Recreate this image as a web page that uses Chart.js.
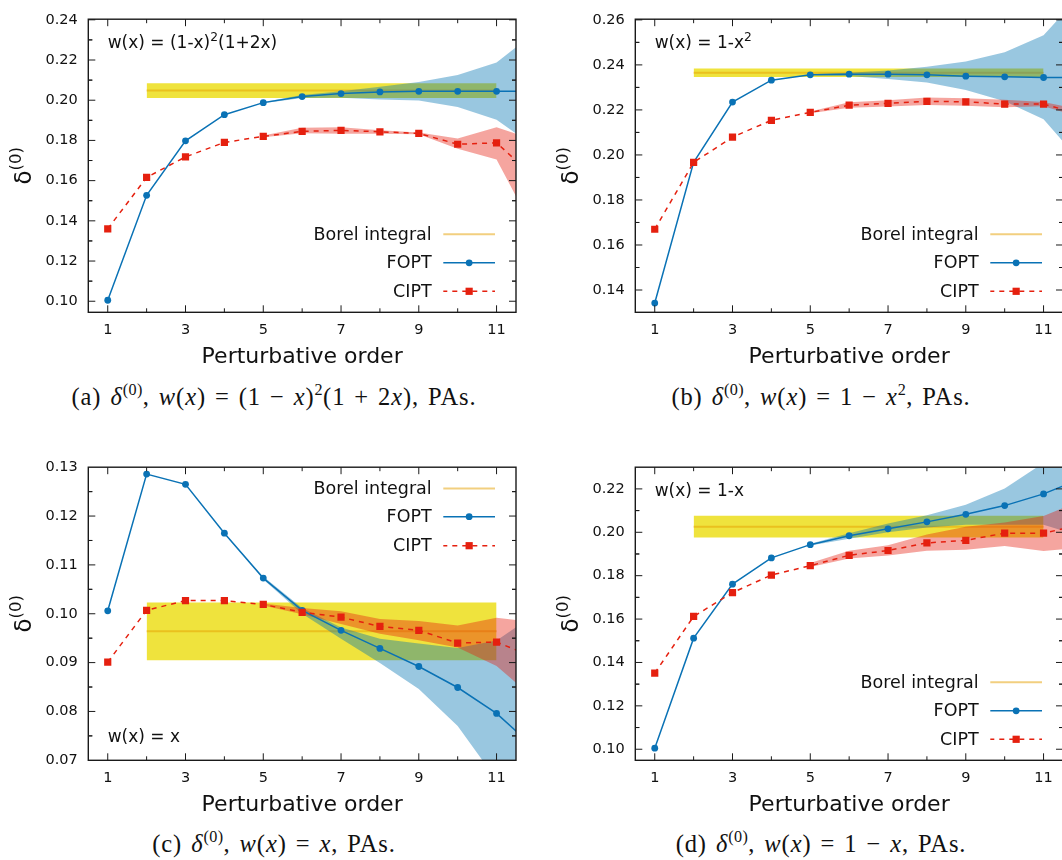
<!DOCTYPE html>
<html>
<head>
<meta charset="utf-8">
<script src="https://cdn.jsdelivr.net/npm/chart.js@4.4.1/dist/chart.umd.min.js"></script>
<style>
    html, body { margin: 0; padding: 0; background: #fff; overflow: hidden; }
    body { width: 1062px; height: 860px; position: relative; }
    .panel { position: absolute; width: 531px; height: 380px; }
    .panel canvas { display: block; }
    .caption {
        position: absolute;
        font-family: "Liberation Serif", "DejaVu Serif", serif;
        font-size: 24.5px;
        letter-spacing: 0.9px;
        word-spacing: 2px;
        color: #111;
        white-space: nowrap;
        transform: translateX(-50%);
    }
    .caption sup { font-size: 66%; line-height: 0; vertical-align: 0.6em; letter-spacing: 0.4px; }
</style>
</head>
<body>
<div class="panel" style="left:0px;top:0px"><canvas id="chartA" width="531" height="380"></canvas></div>
<div class="panel" style="left:547px;top:0px"><canvas id="chartB" width="531" height="380"></canvas></div>
<div class="panel" style="left:0px;top:448px"><canvas id="chartC" width="531" height="380"></canvas></div>
<div class="panel" style="left:547px;top:448px"><canvas id="chartD" width="531" height="380"></canvas></div>

<div class="caption" style="left:274px;top:383px">(a) <i>δ</i><sup>(0)</sup>, <i>w</i>(<i>x</i>) = (1 − <i>x</i>)<sup>2</sup>(1 + 2<i>x</i>), PAs.</div>
<div class="caption" style="left:821px;top:383px">(b) <i>δ</i><sup>(0)</sup>, <i>w</i>(<i>x</i>) = 1 − <i>x</i><sup>2</sup>, PAs.</div>
<div class="caption" style="left:274px;top:830px">(c) <i>δ</i><sup>(0)</sup>, <i>w</i>(<i>x</i>) = <i>x</i>, PAs.</div>
<div class="caption" style="left:821px;top:830px">(d) <i>δ</i><sup>(0)</sup>, <i>w</i>(<i>x</i>) = 1 − <i>x</i>, PAs.</div>

<script>
// Perturbative orders (12 sits just outside the plotted range, lines run off the edge)
const orders = [1, 2, 3, 4, 5, 6, 7, 8, 9, 10, 11, 12];
const bandOrders = [5, 6, 7, 8, 9, 10, 11, 12];
const xLabels = [1, 3, 5, 7, 9, 11];
const borelRange = [2, 11];

// (a) w(x) = (1-x)^2(1+2x)
const foptA = [0.1005, 0.1527, 0.1798, 0.1928, 0.1988, 0.2018, 0.2033, 0.2041, 0.2044, 0.2044, 0.2044, 0.2044];
const ciptA = [0.1360, 0.1616, 0.1718, 0.1790, 0.1820, 0.1845, 0.1850, 0.1843, 0.1835, 0.1781, 0.1788, 0.1612];
const foptHiA = [0.1991, 0.2026, 0.2045, 0.2067, 0.2090, 0.2126, 0.2188, 0.2340];
const foptLoA = [0.1985, 0.2011, 0.2012, 0.2003, 0.1998, 0.1966, 0.1903, 0.1765];
const ciptHiA = [0.1824, 0.1863, 0.1866, 0.1850, 0.1839, 0.1810, 0.1866, 0.1800];
const ciptLoA = [0.1816, 0.1836, 0.1833, 0.1833, 0.1831, 0.1758, 0.1705, 0.1340];
const borelA = [0.2048, 0.0037];
const yTicksA = [0.10, 0.12, 0.14, 0.16, 0.18, 0.20, 0.22, 0.24];

// (b) w(x) = 1-x^2
const foptB = [0.1342, 0.1967, 0.2235, 0.2332, 0.2356, 0.2359, 0.2359, 0.2356, 0.2350, 0.2347, 0.2344, 0.2344];
const ciptB = [0.1670, 0.1967, 0.2079, 0.2154, 0.2189, 0.2221, 0.2229, 0.2238, 0.2236, 0.2226, 0.2226, 0.2178];
const foptHiB = [0.2358, 0.2365, 0.2375, 0.2392, 0.2415, 0.2456, 0.2532, 0.2720];
const foptLoB = [0.2354, 0.2351, 0.2337, 0.2322, 0.2288, 0.2238, 0.2159, 0.1960];
const ciptHiB = [0.2193, 0.2234, 0.2243, 0.2255, 0.2252, 0.2245, 0.2235, 0.2200];
const ciptLoB = [0.2185, 0.2210, 0.2215, 0.2222, 0.2218, 0.2212, 0.2216, 0.2165];
const borelB = [0.2365, 0.0019];
const yTicksB = [0.14, 0.16, 0.18, 0.20, 0.22, 0.24, 0.26];

// (c) w(x) = x
const foptC = [0.1006, 0.1286, 0.1265, 0.1165, 0.1073, 0.1007, 0.0966, 0.0929, 0.0892, 0.0849, 0.0796, 0.0724];
const ciptC = [0.0901, 0.1007, 0.1027, 0.1027, 0.1019, 0.1003, 0.0993, 0.0974, 0.0966, 0.0940, 0.0942, 0.0910];
const foptHiC = [0.1076, 0.1012, 0.0972, 0.0949, 0.0939, 0.0930, 0.0945, 0.1000];
const foptLoC = [0.1070, 0.1000, 0.0949, 0.0899, 0.0846, 0.0770, 0.0660, 0.0550];
const ciptHiC = [0.1021, 0.1012, 0.1005, 0.0989, 0.0985, 0.0976, 0.0992, 0.0982];
const ciptLoC = [0.1017, 0.0999, 0.0979, 0.0959, 0.0946, 0.0931, 0.0893, 0.0825];
const borelC = [0.0964, 0.0059];
const yTicksC = [0.07, 0.08, 0.09, 0.10, 0.11, 0.12, 0.13];

// (d) w(x) = 1-x
const foptD = [0.1005, 0.1512, 0.1761, 0.1882, 0.1943, 0.1984, 0.2016, 0.2048, 0.2083, 0.2123, 0.2177, 0.2250];
const ciptD = [0.1351, 0.1612, 0.1722, 0.1803, 0.1846, 0.1894, 0.1916, 0.1951, 0.1963, 0.1996, 0.1996, 0.2036];
const foptHiD = [0.1947, 0.1996, 0.2040, 0.2079, 0.2127, 0.2202, 0.2320, 0.2450];
const foptLoD = [0.1939, 0.1970, 0.2000, 0.2022, 0.2035, 0.2035, 0.2035, 0.1980];
const ciptHiD = [0.1858, 0.1915, 0.1940, 0.1990, 0.2026, 0.2045, 0.2075, 0.2150];
const ciptLoD = [0.1840, 0.1879, 0.1893, 0.1915, 0.1919, 0.1937, 0.1914, 0.1930];
const borelD = [0.2026, 0.0050];
const yTicksD = [0.10, 0.12, 0.14, 0.16, 0.18, 0.20, 0.22];

const legendLabels = ['Borel integral', 'FOPT', 'CIPT'];

// Colours (gnuplot-like)
const colors = {
    fopt: '#0a72b5',
    cipt: '#e5200f',
    foptBand: 'rgba(0, 114, 178, 0.40)',
    ciptBand: 'rgba(229, 30, 16, 0.40)',
    borelBand: '#efe33d',
    borelLine: 'rgba(230, 159, 0, 0.5)',
    text: '#111'
};
const FONT = '"DejaVu Sans", Verdana, sans-serif';

// Geometry of the plot frame inside each canvas
const frame = { left: 88.3, top: 10.5, right: 516, bottom: 312.3, width: 531, height: 380 };

function pts(xs, ys) {
    return xs.map((x, i) => ({ x: x, y: ys[i] }));
}

function drawRich(ctx, parts, x, y, size) {
    let cx = x;
    parts.forEach(p => {
        const s = p.sup ? size * 0.72 : size;
        ctx.font = `${s}px ${FONT}`;
        ctx.fillText(p.t, cx, p.sup ? y - size * 0.42 : y);
        cx += ctx.measureText(p.t).width;
    });
    return cx - x;
}

function richWidth(ctx, parts, size) {
    let w = 0;
    parts.forEach(p => {
        ctx.font = `${p.sup ? size * 0.72 : size}px ${FONT}`;
        w += ctx.measureText(p.t).width;
    });
    return w;
}

// Border box, mirrored inward ticks, axis titles, key and inset label
const framePlugin = {
    id: 'frame',
    afterDraw(chart, args, opts) {
        const { ctx, chartArea: a, scales: { x, y } } = chart;
        ctx.save();
        ctx.strokeStyle = '#1a1a1a';
        ctx.lineWidth = 1;
        ctx.beginPath();
        orders.forEach(v => {
            if (v < x.min || v > x.max) return;
            const px = x.getPixelForValue(v);
            const len = xLabels.includes(v) ? 7 : 4;
            ctx.moveTo(px, a.bottom); ctx.lineTo(px, a.bottom - len);
            ctx.moveTo(px, a.top); ctx.lineTo(px, a.top + len);
        });
        const yt = opts.yTicks;
        const step = yt[1] - yt[0];
        const yAll = [];
        yt.forEach(v => { yAll.push([v, 7]); yAll.push([v + step / 2, 4]); yAll.push([v - step / 2, 4]); });
        yAll.forEach(([v, len]) => {
            if (v < y.min + 1e-9 || v > y.max - 1e-9) return;
            const py = y.getPixelForValue(v);
            ctx.moveTo(a.left, py); ctx.lineTo(a.left + len, py);
            ctx.moveTo(a.right, py); ctx.lineTo(a.right - len, py);
        });
        ctx.stroke();

        ctx.lineWidth = 1.4;
        ctx.strokeRect(a.left, a.top, a.right - a.left, a.bottom - a.top);

        // axis titles
        ctx.fillStyle = colors.text;
        ctx.textAlign = 'center';
        ctx.textBaseline = 'middle';
        ctx.font = `22px ${FONT}`;
        ctx.fillText('Perturbative order', (a.left + a.right) / 2, a.bottom + 45);

        ctx.save();
        ctx.translate(22.5, (a.top + a.bottom) / 2);
        ctx.rotate(-Math.PI / 2);
        ctx.textAlign = 'left';
        ctx.textBaseline = 'alphabetic';
        const yParts = [{ t: 'δ' }, { t: '(0)', sup: true }];
        const yw = richWidth(ctx, yParts, 23);
        drawRich(ctx, yParts, -yw / 2, 8, 23);
        ctx.restore();

        // inset label w(x)
        ctx.textAlign = 'left';
        ctx.textBaseline = 'alphabetic';
        ctx.fillStyle = colors.text;
        const ly = opts.labelAtTop ? a.top + 29 : a.bottom - 18;
        drawRich(ctx, opts.label, a.left + 19.4, ly, 17);

        // key
        const rows = opts.legendAtTop
            ? [a.top + 21.2, a.top + 49.5, a.top + 78.5]
            : [a.bottom - 78, a.bottom - 49.5, a.bottom - 21];
        const x0 = a.right - 72.7, x1 = a.right - 21, xm = (x0 + x1) / 2;
        ctx.font = `17.5px ${FONT}`;
        ctx.textAlign = 'right';
        ctx.textBaseline = 'middle';
        legendLabels.forEach((lab, i) => {
            const ry = rows[i];
            ctx.fillStyle = colors.text;
            ctx.fillText(lab, a.right - 84.3, ry + 1);
            ctx.beginPath();
            ctx.moveTo(x0, ry); ctx.lineTo(x1, ry);
            if (i === 0) {
                ctx.strokeStyle = colors.borelLine; ctx.lineWidth = 2; ctx.setLineDash([]);
            } else if (i === 1) {
                ctx.strokeStyle = colors.fopt; ctx.lineWidth = 1.5; ctx.setLineDash([]);
            } else {
                ctx.strokeStyle = colors.cipt; ctx.lineWidth = 1.5; ctx.setLineDash([5, 5]);
                ctx.lineDashOffset = 1;
            }
            ctx.stroke();
            ctx.setLineDash([]);
            if (i === 1) {
                ctx.fillStyle = colors.fopt;
                ctx.beginPath(); ctx.arc(xm, ry, 3.4, 0, Math.PI * 2); ctx.fill();
            } else if (i === 2) {
                ctx.fillStyle = colors.cipt;
                ctx.fillRect(xm - 3.6, ry - 3.6, 7.2, 7.2);
            }
        });
        ctx.restore();
    }
};

function makeChart(id, p) {
    const borelHi = [p.borel[0] + p.borel[1], p.borel[0] + p.borel[1]];
    const borelLo = [p.borel[0] - p.borel[1], p.borel[0] - p.borel[1]];
    const borelMid = [p.borel[0], p.borel[0]];
    const band = (data, color, fill, order) => ({
        data: data, fill: fill, backgroundColor: color, borderColor: 'rgba(0,0,0,0)',
        borderWidth: 0, pointRadius: 0, tension: 0, order: order, clip: 0
    });
    return new Chart(document.getElementById(id), {
        type: 'line',
        data: {
            datasets: [
                {
                    label: 'CIPT', data: pts(orders, p.cipt), borderColor: colors.cipt, backgroundColor: colors.cipt,
                    borderWidth: 1.5, borderDash: [5, 5], pointStyle: 'rect', pointRadius: 5.1,
                    pointBorderWidth: 0, fill: false, tension: 0, order: 1, clip: 0
                },
                {
                    label: 'FOPT', data: pts(orders, p.fopt), borderColor: colors.fopt, backgroundColor: colors.fopt,
                    borderWidth: 1.5, pointStyle: 'circle', pointRadius: 3.4, pointBorderWidth: 0,
                    fill: false, tension: 0, order: 2, clip: 0
                },
                band(pts(bandOrders, p.ciptHi), colors.ciptBand, '+1', 3),
                band(pts(bandOrders, p.ciptLo), colors.ciptBand, false, 3),
                band(pts(bandOrders, p.foptHi), colors.foptBand, '+1', 4),
                band(pts(bandOrders, p.foptLo), colors.foptBand, false, 4),
                {
                    label: 'Borel integral', data: pts(borelRange, borelMid), borderColor: colors.borelLine,
                    borderWidth: 2, pointRadius: 0, fill: false, order: 5, clip: 0
                },
                band(pts(borelRange, borelHi), colors.borelBand, '+1', 6),
                band(pts(borelRange, borelLo), colors.borelBand, false, 6)
            ]
        },
        options: {
            responsive: false,
            animation: false,
            events: [],
            layout: { padding: { left: 0, top: frame.top, right: frame.width - frame.right, bottom: 0 } },
            plugins: {
                legend: { display: false },
                tooltip: { enabled: false },
                frame: { yTicks: p.yTicks, label: p.label, labelAtTop: p.labelAtTop, legendAtTop: p.legendAtTop }
            },
            scales: {
                x: {
                    type: 'linear', min: 0.5, max: 11.5,
                    grid: { display: false, drawTicks: false },
                    border: { display: false },
                    ticks: {
                        color: colors.text, font: { family: FONT, size: 14.5 }, padding: 9,
                        maxRotation: 0, autoSkip: false, callback: v => String(v)
                    },
                    afterBuildTicks: s => { s.ticks = xLabels.map(v => ({ value: v })); },
                    afterFit: s => { s.height = frame.height - frame.bottom; }
                },
                y: {
                    type: 'linear', min: p.yMin, max: p.yMax,
                    grid: { display: false, drawTicks: false },
                    border: { display: false },
                    ticks: {
                        color: colors.text, font: { family: FONT, size: 14.5 }, padding: 10.5,
                        autoSkip: false, callback: v => v.toFixed(2)
                    },
                    afterBuildTicks: s => { s.ticks = p.yTicks.map(v => ({ value: v })); },
                    afterFit: s => { s.width = frame.left; }
                }
            }
        },
        plugins: [framePlugin]
    });
}

makeChart('chartA', {
    fopt: foptA, cipt: ciptA, foptHi: foptHiA, foptLo: foptLoA, ciptHi: ciptHiA, ciptLo: ciptLoA,
    borel: borelA, yTicks: yTicksA, yMin: 0.0945, yMax: 0.2403,
    label: [{ t: 'w(x) = (1-x)' }, { t: '2', sup: true }, { t: '(1+2x)' }], labelAtTop: true, legendAtTop: false
});
makeChart('chartB', {
    fopt: foptB, cipt: ciptB, foptHi: foptHiB, foptLo: foptLoB, ciptHi: ciptHiB, ciptLo: ciptLoB,
    borel: borelB, yTicks: yTicksB, yMin: 0.1301, yMax: 0.2603,
    label: [{ t: 'w(x) = 1-x' }, { t: '2', sup: true }], labelAtTop: true, legendAtTop: false
});
makeChart('chartC', {
    fopt: foptC, cipt: ciptC, foptHi: foptHiC, foptLo: foptLoC, ciptHi: ciptHiC, ciptLo: ciptLoC,
    borel: borelC, yTicks: yTicksC, yMin: 0.07, yMax: 0.13,
    label: [{ t: 'w(x) = x' }], labelAtTop: false, legendAtTop: true
});
makeChart('chartD', {
    fopt: foptD, cipt: ciptD, foptHi: foptHiD, foptLo: foptLoD, ciptHi: ciptHiD, ciptLo: ciptLoD,
    borel: borelD, yTicks: yTicksD, yMin: 0.0949, yMax: 0.23,
    label: [{ t: 'w(x) = 1-x' }], labelAtTop: true, legendAtTop: false
});
</script>
</body>
</html>
